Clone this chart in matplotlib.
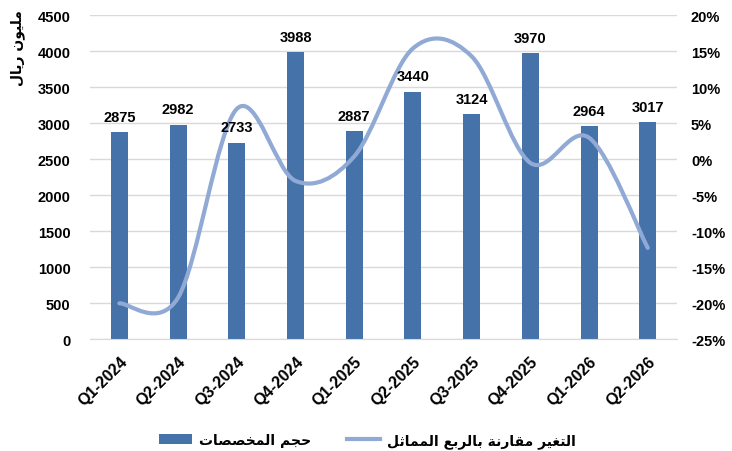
import numpy as np
import matplotlib
matplotlib.use("Agg")
import matplotlib.pyplot as plt
from matplotlib.path import Path
from matplotlib.patches import PathPatch
from matplotlib.lines import Line2D

# chart data
quarters = ["Q1-2024", "Q2-2024", "Q3-2024", "Q4-2024", "Q1-2025",
            "Q2-2025", "Q3-2025", "Q4-2025", "Q1-2026", "Q2-2026"]
allocations = [2875, 2982, 2733, 3988, 2887, 3440, 3124, 3970, 2964, 3017]
yoy_change = [-20.0, -19.2, 7.0, -3.0, 0.4, 15.4, 14.3, -0.5, 3.0, -12.3]

left_ticks = list(range(0, 4501, 500))
right_ticks = list(range(-25, 21, 5))

ylabel_text = "مليون ريال"
bar_label = "حجم المخصصات"
line_label = "التغير مقارنة بالربع المماثل"

BAR_COLOR = "#4472A9"
LINE_COLOR = "#91A9D5"
GRID_COLOR = "#D9D9D9"
NUM_FONT = "Liberation Sans"
AR_FONT = ["DejaVu Sans"]

# Arabic contextual forms: isolated, final, initial, medial (None = does not join forward)
FORMS = {
    "ا": (0xFE8D, 0xFE8E, None, None),
    "ب": (0xFE8F, 0xFE90, 0xFE91, 0xFE92),
    "ة": (0xFE93, 0xFE94, None, None),
    "ت": (0xFE95, 0xFE96, 0xFE97, 0xFE98),
    "ث": (0xFE99, 0xFE9A, 0xFE9B, 0xFE9C),
    "ج": (0xFE9D, 0xFE9E, 0xFE9F, 0xFEA0),
    "ح": (0xFEA1, 0xFEA2, 0xFEA3, 0xFEA4),
    "خ": (0xFEA5, 0xFEA6, 0xFEA7, 0xFEA8),
    "د": (0xFEA9, 0xFEAA, None, None),
    "ر": (0xFEAD, 0xFEAE, None, None),
    "ص": (0xFEB9, 0xFEBA, 0xFEBB, 0xFEBC),
    "ع": (0xFEC9, 0xFECA, 0xFECB, 0xFECC),
    "غ": (0xFECD, 0xFECE, 0xFECF, 0xFED0),
    "ق": (0xFED5, 0xFED6, 0xFED7, 0xFED8),
    "ل": (0xFEDD, 0xFEDE, 0xFEDF, 0xFEE0),
    "م": (0xFEE1, 0xFEE2, 0xFEE3, 0xFEE4),
    "ن": (0xFEE5, 0xFEE6, 0xFEE7, 0xFEE8),
    "و": (0xFEED, 0xFEEE, None, None),
    "ي": (0xFEF1, 0xFEF2, 0xFEF3, 0xFEF4),
}


def shape_arabic(text):
    # matplotlib has no text shaping, so pick presentation forms and reverse for RTL
    out = []
    for i, ch in enumerate(text):
        if ch not in FORMS:
            out.append(ch)
            continue
        forms = FORMS[ch]
        prev = text[i - 1] if i > 0 else None
        nxt = text[i + 1] if i < len(text) - 1 else None
        join_prev = prev in FORMS and FORMS[prev][2] is not None
        join_next = forms[2] is not None and nxt in FORMS
        if join_prev and join_next:
            code = forms[3]
        elif join_prev:
            code = forms[1]
        elif join_next:
            code = forms[2]
        else:
            code = forms[0]
        out.append(chr(code))
    return "".join(reversed(out))


def smooth_path(xs, ys, k=1.0 / 6.0):
    # Excel-like smoothed line: cubic Bezier through every point
    pts = np.column_stack([xs, ys]).astype(float)
    n = len(pts)
    verts = [pts[0]]
    codes = [Path.MOVETO]
    for i in range(n - 1):
        p_prev = pts[i - 1] if i > 0 else pts[i]
        p_next2 = pts[i + 2] if i + 2 < n else pts[i + 1]
        c1 = pts[i] + (pts[i + 1] - p_prev) * k
        c2 = pts[i + 1] - (p_next2 - pts[i]) * k
        verts += [c1, c2, pts[i + 1]]
        codes += [Path.CURVE4] * 3
    return Path(verts, codes)


fig = plt.figure(figsize=(7.32, 4.52), dpi=100)
ax = fig.add_axes([0.123, 0.247, 0.802, 0.717])
ax2 = ax.twinx()

x = np.arange(len(quarters))
bars = ax.bar(x, allocations, width=0.29, color=BAR_COLOR, zorder=2)

ax.set_xlim(-0.5, len(quarters) - 0.5)
ax.set_ylim(0, 4500)
ax.set_yticks(left_ticks)
ax.set_yticklabels([str(v) for v in left_ticks], fontfamily=NUM_FONT,
                   fontweight="bold", fontsize=10.5)
ax.set_xticks(x)
ax.set_xticklabels(quarters, rotation=45, ha="right", va="top",
                   rotation_mode="anchor", fontfamily=NUM_FONT,
                   fontweight="bold", fontsize=11.5)
ax.tick_params(axis="y", length=0, pad=14)
ax.tick_params(axis="x", length=0, pad=10)
ax.grid(axis="y", color=GRID_COLOR, linewidth=1.0, zorder=0)
ax.set_axisbelow(True)
for side in ["top", "left", "right"]:
    ax.spines[side].set_visible(False)
ax.spines["bottom"].set_color(GRID_COLOR)

ax2.set_ylim(-25, 20)
ax2.set_yticks(right_ticks)
ax2.set_yticklabels([f"{v}%" for v in right_ticks], fontfamily=NUM_FONT,
                    fontweight="bold", fontsize=10.5)
ax2.tick_params(axis="y", length=0, pad=10)
for side in ["top", "left", "right", "bottom"]:
    ax2.spines[side].set_visible(False)

curve = PathPatch(smooth_path(x, yoy_change), facecolor="none",
                  edgecolor=LINE_COLOR, linewidth=3.0, capstyle="round", zorder=3)
ax2.add_patch(curve)

# value labels above bars, drawn over the line
for xi, val in zip(x, allocations):
    ax2.annotate(str(val), xy=(xi, val), xycoords=ax.transData,
                 xytext=(0, 6), textcoords="offset points", ha="center",
                 va="bottom", fontfamily=NUM_FONT, fontweight="bold",
                 fontsize=10.5, zorder=5)

fig.text(0.024, 0.893, shape_arabic(ylabel_text), rotation=90, ha="center",
         va="center", family=AR_FONT, fontweight="bold", fontsize=10)

handles = [bars, Line2D([0], [0], color=LINE_COLOR, linewidth=3.0)]
labels = [shape_arabic(bar_label), shape_arabic(line_label)]
fig.legend(handles, labels, loc="center", bbox_to_anchor=(0.502, 0.024),
           ncol=2, frameon=False, handlelength=2.4, columnspacing=2.6,
           handletextpad=0.5,
           prop={"family": AR_FONT, "weight": "bold", "size": 10})

fig.savefig("out.png", dpi=100)
